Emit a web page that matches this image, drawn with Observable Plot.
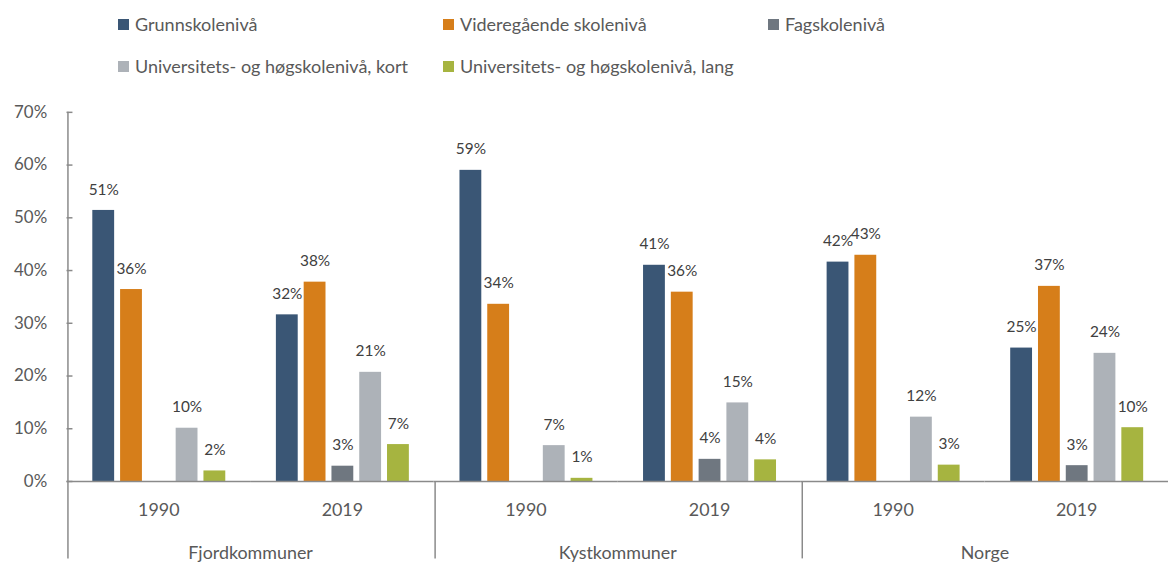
<!DOCTYPE html>
<html>
<head>
<meta charset="utf-8">
<script src="https://cdn.jsdelivr.net/npm/d3@7"></script>
<script src="https://cdn.jsdelivr.net/npm/@observablehq/plot@0.6"></script>
<style>
  html, body { margin: 0; padding: 0; background: #fff; overflow: hidden; }
  #wrap { position: relative; width: 1168px; height: 562px; font-family: Lato, "Open Sans", sans-serif; }
  #legend { position: absolute; left: 0; top: 0; width: 1168px; height: 92px; }
  .item { position: absolute; display: flex; align-items: center; font-size: 18px; line-height: 22px; color: #595959; white-space: nowrap; }
  .sw { width: 11px; height: 11px; margin-right: 6px; flex: none; }
  #chart { position: absolute; left: 0; top: 92px; }
</style>
</head>
<body>
<div id="wrap">
  <div id="legend"></div>
  <div id="chart"></div>
</div>
<script>
// ---- data ----
const groups = ["Fjordkommuner", "Kystkommuner", "Norge"];
const years = ["1990", "2019"];
const levels = [
  "Grunnskolenivå",
  "Videregående skolenivå",
  "Fagskolenivå",
  "Universitets- og høgskolenivå, kort",
  "Universitets- og høgskolenivå, lang"
];
const colors = ["#3A5675", "#D67E1A", "#6F7780", "#ADB2B8", "#A6B440"];
// order: Fjord 1990, Fjord 2019, Kyst 1990, Kyst 2019, Norge 1990, Norge 2019
const grunnskole   = [51.4, 31.6, 59.0, 41.0, 41.6, 25.3];
const videregaende = [36.4, 37.8, 33.6, 35.9, 42.9, 37.0];
const fagskole     = [null, 2.9, null, 4.2, null, 3.0];
const uniKort      = [10.1, 20.7, 6.8, 14.9, 12.2, 24.3];
const uniLang      = [2.0, 7.0, 0.6, 4.1, 3.1, 10.2];
const yTicks = [0, 10, 20, 30, 40, 50, 60, 70];

// ---- build table ----
const series = [grunnskole, videregaende, fagskole, uniKort, uniLang];
const keys = [];
const yearLabels = [];
groups.forEach(g => years.forEach(y => { keys.push(g + " " + y); yearLabels.push({key: g + " " + y, year: y}); }));
const groupLabels = groups.map(g => ({key: g + " " + years[0], group: g}));
const table = [];
keys.forEach((k, i) => levels.forEach((l, j) => {
  const v = series[j][i];
  if (v != null) table.push({key: k, level: l, value: v});
}));

// ---- legend ----
const legend = document.getElementById("legend");
levels.forEach((l, j) => {
  const col = j < 3 ? j : j - 3;
  const row = j < 3 ? 0 : 1;
  const d = document.createElement("div");
  d.className = "item";
  d.style.left = (118 + col * 325) + "px";
  d.style.top = (row === 0 ? 13 : 55) + "px";
  d.innerHTML = `<span class="sw" style="background:${colors[j]}"></span><span>${l}</span>`;
  legend.appendChild(d);
});

// ---- layout ----
const W = 1177, H = 470, mL = 67, mR = 0, mT = 20, mB = 78;
const pIn = 0.22, pOut = 0.887;
const facetW = (W - mL - mR) / keys.length;
const step = facetW / (levels.length - pIn + 2 * pOut);
const bw = step * (1 - pIn);
const sepDx = -(pOut * step + bw / 2);
const plotH = H - mT - mB;
const yBottom = -mB * 70 / plotH;
const axisColor = "#8A8A8A";
const seps = [
  {key: keys[0], top: 70},
  {key: keys[2], top: 0},
  {key: keys[4], top: 0}
];

const chart = Plot.plot({
  width: W, height: H,
  marginLeft: mL, marginRight: mR, marginTop: mT, marginBottom: mB,
  style: {fontFamily: "Lato, 'Open Sans', sans-serif", fontSize: "17px", color: "#595959", overflow: "visible", background: "transparent"},
  fx: {domain: keys, padding: 0, axis: null},
  x: {domain: levels, paddingInner: pIn, paddingOuter: pOut, axis: null},
  y: {domain: [0, 70], axis: null},
  color: {domain: levels, range: colors},
  marks: [
    Plot.barY(table, {fx: "key", x: "level", y: "value", fill: "level"}),
    Plot.ruleY([0], {stroke: axisColor, strokeWidth: 1.5}),
    Plot.ruleX(seps, {fx: "key", x: () => levels[0], y1: "top", y2: () => yBottom, dx: sepDx, stroke: axisColor, strokeWidth: 1.5, clip: false}),
    Plot.axisY({ticks: yTicks, tickSize: -6, tickPadding: 26, tickFormat: d => d + "%", stroke: axisColor, strokeWidth: 1.5, fontSize: 17, label: null}),
    Plot.text(table, {fx: "key", x: "level", y: "value", text: d => Math.round(d.value) + "%", dy: -21, fontSize: 15.5, fill: "#404040"}),
    Plot.text(yearLabels, {fx: "key", text: "year", frameAnchor: "bottom", lineAnchor: "middle", dy: 29, fontSize: 18, fill: "#595959"}),
    Plot.text(groupLabels, {fx: "key", text: "group", frameAnchor: "bottom-right", textAnchor: "middle", lineAnchor: "middle", dy: 72, fontSize: 18, fill: "#595959"})
  ]
});
document.getElementById("chart").appendChild(chart);
</script>
</body>
</html>
